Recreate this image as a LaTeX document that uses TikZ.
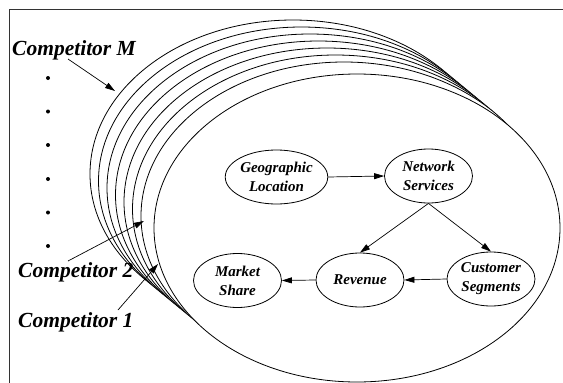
\documentclass[tikz,border=0pt]{standalone}
\usepackage{fontspec}
\setmainfont{Liberation Serif}
\usetikzlibrary{shapes.geometric,arrows.meta}
\begin{document}
\begin{tikzpicture}[x=1pt,y=-1pt,
  factor/.style={ellipse, draw, line width=0.8pt, minimum width=88pt,
    minimum height=54pt, inner sep=0pt, align=center,
    font=\fontsize{15}{19}\selectfont\bfseries\itshape},
  flow/.style={-{Triangle[length=10pt,width=6pt]}, line width=0.7pt},
  layer/.style={draw, fill=white, line width=0.8pt},
  complabel/.style={anchor=base west, inner sep=0pt,
    font=\fontsize{21.5}{24}\selectfont\bfseries\itshape},
  frameline/.style={draw=black!80, line width=1.3pt}]
\useasboundingbox (0,0) rectangle (563,383);

% frame: top and left edges only
\draw[frameline] (563,9.5) -- (9.5,9.5) -- (9.5,383);

% stack of competitor planes, back to front
\foreach \k in {6,5,...,0}
  \draw[layer] (344-8.5*\k, 216-7*\k) ellipse [x radius=203, y radius=154];
\draw[layer] (357,228) ellipse [x radius=203, y radius=154];

% factors of the front plane
\node[factor] (geo)  at (276.5,177) {Geographic\\Location};
\node[factor] (net)  at (428.5,176) {Network\\Services};
\node[factor] (mkt)  at (237.5,280.5) {Market\\Share};
\node[factor] (rev)  at (360,280) {Revenue};
\node[factor] (cust) at (491,279) {Customer\\Segments};

\draw[flow] (geo.east) -- (net.west);
\draw[flow] (net.south) -- (rev.north);
\draw[flow] (net.south) -- (cust.north);
\draw[flow] (cust.west) -- (rev.east);
\draw[flow] (rev.west) -- (mkt.east);

% competitor labels
\node[complabel] (cM) at (12,55) {Competitor M};
\node[complabel] (c2) at (18,277) {Competitor 2};
\node[complabel] (c1) at (18,327) {Competitor 1};

\coordinate (cMtail) at (68,59);
\coordinate (cMtip) at (115,91);
\coordinate (c2tail) at (68,261);
\coordinate (c2tip) at (144,221);
\coordinate (c1tail) at (118,310);
\coordinate (c1tip) at (158,264);
\draw[flow] (cMtail) -- (cMtip);
\draw[flow] (c2tail) -- (c2tip);
\draw[flow] (c1tail) -- (c1tip);

% ellipsis dots between the labels
\foreach \y in {78,111.5,145,179,212.5,246}
  \fill (48,\y) circle [radius=2];
\end{tikzpicture}
\end{document}
